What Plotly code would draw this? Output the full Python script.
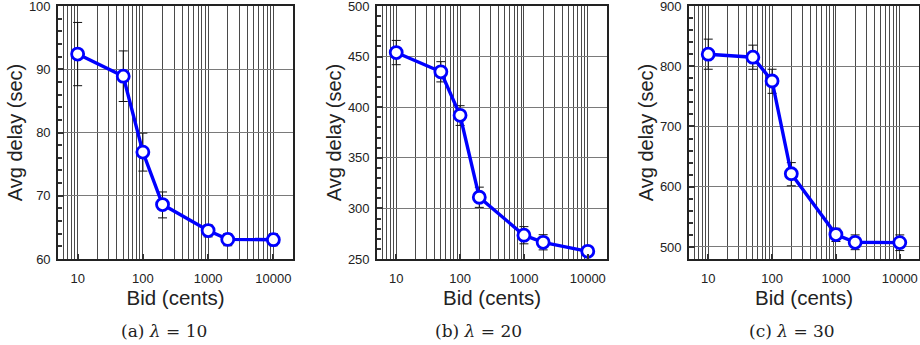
import plotly.graph_objects as go

bids = [10, 50, 100, 200, 1000, 2000, 10000]

delay_l10 = [92.4, 88.9, 76.9, 68.6, 64.5, 63.1, 63.05]
upper_l10 = [97.4, 92.9, 79.9, 70.6, 65.4, 64.0, 64.0]
lower_l10 = [87.4, 84.9, 73.9, 66.5, 63.5, 62.1, 62.1]

delay_l20 = [454, 435, 392, 311, 273.5, 266.5, 257.6]
upper_l20 = [466, 445, 401.5, 321, 282, 274, 259.5]
lower_l20 = [442, 425, 382, 301, 265, 259, 255.5]

delay_l30 = [820, 815, 775.5, 621.5, 520.5, 507.7, 507.2]
upper_l30 = [845, 835, 795, 640, 531, 520, 520]
lower_l30 = [795, 795, 755, 601.5, 509, 495.5, 494]

yranges = [[60, 100], [250, 500], [480, 900]]
ymajor = [10, 50, 100]
yminor = [2, 10, 20]
captions = ["(a) <i>λ</i> = 10", "(b) <i>λ</i> = 20", "(c) <i>λ</i> = 30"]
xlabels = ["10", "100", "1000", "10000"]
xvals = [10, 100, 1000, 10000]

W, H = 920, 345
xdom_px = [(58, 293), (377, 607), (689, 919)]
ytop, ybot = 6, 259
caption_cx = [164, 478, 792]

series = [(delay_l10, upper_l10, lower_l10),
          (delay_l20, upper_l20, lower_l20),
          (delay_l30, upper_l30, lower_l30)]

fig = go.Figure()
for i, (d, up, lo) in enumerate(series):
    n = "" if i == 0 else str(i + 1)
    fig.add_trace(go.Scatter(
        x=bids, y=d, mode="lines+markers",
        xaxis="x" + n, yaxis="y" + n,
        line=dict(color="#0000ff", width=3.4),
        marker=dict(symbol="circle", size=12, color="white",
                    line=dict(color="#0000ff", width=2.8)),
        error_y=dict(type="data", symmetric=False,
                     array=[u - v for u, v in zip(up, d)],
                     arrayminus=[v - l for v, l in zip(d, lo)],
                     color="#111111", thickness=1, width=4.5),
        showlegend=False, cliponaxis=False))

    x0, x1 = xdom_px[i]
    xa = dict(domain=[x0 / W, x1 / W], type="log",
              range=[0.699, 4.301], anchor="y" + n,
              tickvals=xvals, ticktext=xlabels,
              ticks="inside", ticklen=5, tickwidth=1.5, tickcolor="#333",
              ticklabelstandoff=7, ticklabeloverflow="allow", automargin=False,
              showgrid=True, gridcolor="#4a4a4a", gridwidth=1,
              minor=dict(dtick="D1", showgrid=True, gridcolor="#4a4a4a",
                         gridwidth=0.9, ticks=""),
              showline=True, linecolor="#222", linewidth=1.6, mirror=True,
              zeroline=False,
              tickfont=dict(family="Liberation Sans", size=13, color="#222"),
              title=dict(text="Bid (cents)", standoff=4,
                         font=dict(family="Liberation Sans", size=20.5, color="#222")))
    ya = dict(domain=[(H - ybot) / H, (H - ytop) / H], anchor="x" + n,
              range=yranges[i], dtick=ymajor[i], tick0=0,
              ticks="inside", ticklen=6, tickwidth=1.5, tickcolor="#333",
              ticklabelstandoff=3, ticklabeloverflow="allow", automargin=False,
              showgrid=True, gridcolor="#7a7a7a", gridwidth=1.2,
              minor=dict(dtick=yminor[i], ticks="inside", ticklen=4,
                         tickcolor="#333", showgrid=False),
              showline=True, linecolor="#222", linewidth=1.6, mirror=True,
              zeroline=False,
              tickfont=dict(family="Liberation Sans", size=13, color="#222"),
              title=dict(text="Avg delay (sec)", standoff=1,
                         font=dict(family="Liberation Sans", size=20, color="#222")))
    fig.update_layout(**{"xaxis" + n: xa, "yaxis" + n: ya})

    fig.add_annotation(text=captions[i], xref="paper", yref="paper",
                       x=caption_cx[i] / W, y=(H - 331) / H,
                       xanchor="center", yanchor="middle", showarrow=False,
                       font=dict(family="DejaVu Serif", size=17, color="#222"))

fig.update_layout(width=W, height=H, margin=dict(l=0, r=0, t=0, b=0),
                  paper_bgcolor="white", plot_bgcolor="white")
fig.write_html("out.html")
